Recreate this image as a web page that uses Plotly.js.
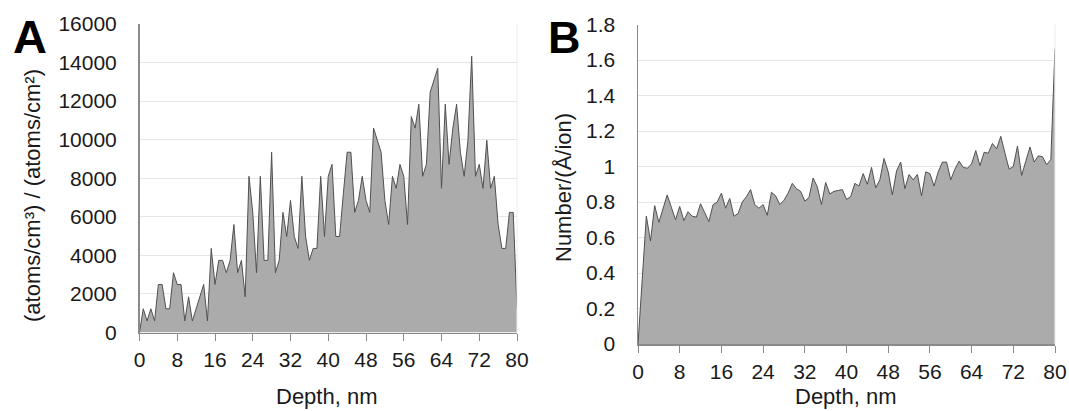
<!DOCTYPE html>
<html>
<head>
<meta charset="utf-8">
<script src="https://cdn.plot.ly/plotly-3.0.1.min.js"></script>
<style>html,body{margin:0;padding:0;background:#fff;}#chart{width:1069px;height:411px;}</style>
</head>
<body>
<div id="chart"></div>
<script>
// Depth (nm), sampled every 0.8 nm
var depth = [0,0.8,1.6,2.4,3.2,4,4.8,5.6,6.4,7.2,8,8.8,9.6,10.4,11.2,12,12.8,13.6,14.4,15.2,
  16,16.8,17.6,18.4,19.2,20,20.8,21.6,22.4,23.2,24,24.8,25.6,26.4,27.2,28,28.8,29.6,30.4,31.2,
  32,32.8,33.6,34.4,35.2,36,36.8,37.6,38.4,39.2,40,40.8,41.6,42.4,43.2,44,44.8,45.6,46.4,47.2,
  48,48.8,49.6,50.4,51.2,52,52.8,53.6,54.4,55.2,56,56.8,57.6,58.4,59.2,60,60.8,61.6,62.4,63.2,
  64,64.8,65.6,66.4,67.2,68,68.8,69.6,70.4,71.2,72,72.8,73.6,74.4,75.2,76,76.8,77.6,78.4,79.2,80];

// Panel A: (atoms/cm3)/(atoms/cm2)
var seriesA = [0,1230,600,1230,600,2490,2490,1230,1230,3100,
  2490,2490,600,1850,600,1230,1850,2490,600,4360,
  2490,3740,3740,3100,3740,5600,3100,3740,1850,8100,
  6230,3100,8100,3740,3740,9350,3100,3740,6230,4980,
  6850,4980,4360,8100,4980,3740,4360,4360,8100,4980,
  8100,8720,4980,4980,7200,9350,9350,6230,6850,8100,
  6850,6230,10600,9970,9350,6850,5600,8100,7480,8720,
  8100,5600,11200,10600,11840,8100,8720,12460,13080,13700,
  7480,11840,8720,10600,11840,9350,8100,9970,14330,8100,
  8720,7480,9970,7480,8100,5600,4360,4360,6230,6230,1250];

// Panel B: Number/(Å/ion)
var seriesB = [0,0.36,0.72,0.58,0.78,0.685,0.76,0.84,0.77,0.70,
  0.775,0.695,0.745,0.72,0.715,0.79,0.74,0.69,0.785,0.80,
  0.85,0.765,0.82,0.72,0.735,0.80,0.83,0.87,0.785,0.765,
  0.785,0.725,0.855,0.835,0.785,0.81,0.85,0.905,0.875,0.86,
  0.805,0.825,0.935,0.885,0.785,0.91,0.845,0.86,0.865,0.87,
  0.815,0.83,0.905,0.89,0.96,0.90,0.995,0.88,0.925,1.045,
  0.97,0.84,0.975,1.025,0.875,0.955,0.925,0.955,0.835,0.97,
  0.96,0.89,0.97,1.025,1.025,0.925,0.985,1.03,0.995,0.99,
  1.015,1.09,1.005,1.08,1.075,1.13,1.10,1.17,1.075,0.985,
  1.0,1.115,0.95,1.03,1.11,1.025,1.06,1.055,1.01,1.04,1.665];

var xTicks = [0,8,16,24,32,40,48,56,64,72,80];
var panelLabels = ['A','B'];
var xTitle = 'Depth, nm';
var yTitleA = '(atoms/cm³) / (atoms/cm²)';
var yTitleB = 'Number/(Å/ion)';

var W = 1069, H = 411;
function px(v){return v/W;}
function py(v){return 1 - v/H;}

var FONT = 'Liberation Sans, Arial, sans-serif';
var axisGray = '#8a8a8a';
var gridGray = '#e6e6e6';

var traces = [
  {x: depth, y: seriesA, type:'scatter', mode:'lines', fill:'tozeroy',
   fillcolor:'#ababab', line:{color:'#505050', width:1}, xaxis:'x', yaxis:'y', hoverinfo:'x+y'},
  {x: depth, y: seriesB, type:'scatter', mode:'lines', fill:'tozeroy',
   fillcolor:'#ababab', line:{color:'#505050', width:1}, xaxis:'x2', yaxis:'y2', hoverinfo:'x+y'}
];

function xAxis(dom, anchor){
  return {domain: dom, anchor: anchor, range:[0,80], tickvals: xTicks, ticktext: xTicks.map(String),
    showgrid:false, zeroline:false, showline:true, linecolor:axisGray, linewidth:1.5,
    ticks:'outside', ticklen:7, tickcolor:axisGray, tickwidth:1,
    ticklabelstandoff:1,
    tickfont:{family:FONT, size:21, color:'#1a1a1a'}};
}
function yAxis(dom, anchor, rng, dt){
  return {domain: dom, anchor: anchor, range: rng, dtick: dt, tick0:0, tickformat:'d',
    showgrid:true, gridcolor:gridGray, gridwidth:1, zeroline:false,
    showline:true, linecolor:axisGray, linewidth:1.5, ticks:'',
    ticklabelstandoff:17,
    tickfont:{family:FONT, size:21, color:'#1a1a1a'}};
}

var yA = yAxis([py(332.5), py(24)], 'x', [0,16000], 2000);
var yB = yAxis([py(344), py(24.5)], 'x2', [0,1.8], 0.2);
delete yB.tickformat;

var layout = {
  width: W, height: H, margin:{l:0,r:0,t:0,b:0},
  paper_bgcolor:'#ffffff', plot_bgcolor:'#ffffff', showlegend:false,
  xaxis: xAxis([px(139.5), px(517)], 'y'),
  yaxis: yA,
  xaxis2: xAxis([px(638), px(1055)], 'y2'),
  yaxis2: yB,
  shapes: [
    {type:'line', xref:'x domain', yref:'y domain', x0:1, x1:1, y0:0, y1:1, line:{color:'#ececec', width:1}},
    {type:'line', xref:'x2 domain', yref:'y2 domain', x0:1, x1:1, y0:0, y1:1, line:{color:'#ececec', width:1}}
  ],
  annotations: [
    {text: panelLabels[0], xref:'paper', yref:'paper', x:px(30), y:py(36), xanchor:'center', yanchor:'middle',
     showarrow:false, font:{family:FONT, size:47, color:'#000', weight:'bold'}},
    {text: panelLabels[1], xref:'paper', yref:'paper', x:px(564), y:py(37), xanchor:'center', yanchor:'middle',
     showarrow:false, font:{family:FONT, size:45, color:'#000', weight:'bold'}},
    {text: xTitle, xref:'paper', yref:'paper', x:px(327), y:py(396), xanchor:'center', yanchor:'middle',
     showarrow:false, font:{family:FONT, size:22, color:'#1a1a1a'}},
    {text: xTitle, xref:'paper', yref:'paper', x:px(846), y:py(396), xanchor:'center', yanchor:'middle',
     showarrow:false, font:{family:FONT, size:22, color:'#1a1a1a'}},
    {text: yTitleA, xref:'paper', yref:'paper', x:px(32), y:py(196), xanchor:'center', yanchor:'middle',
     textangle:-90, showarrow:false, font:{family:FONT, size:22, color:'#1a1a1a'}},
    {text: yTitleB, xref:'paper', yref:'paper', x:px(563), y:py(188), xanchor:'center', yanchor:'middle',
     textangle:-90, showarrow:false, font:{family:FONT, size:22, color:'#1a1a1a'}}
  ]
};

Plotly.newPlot('chart', traces, layout, {displayModeBar:false, staticPlot:true});
</script>
</body>
</html>
